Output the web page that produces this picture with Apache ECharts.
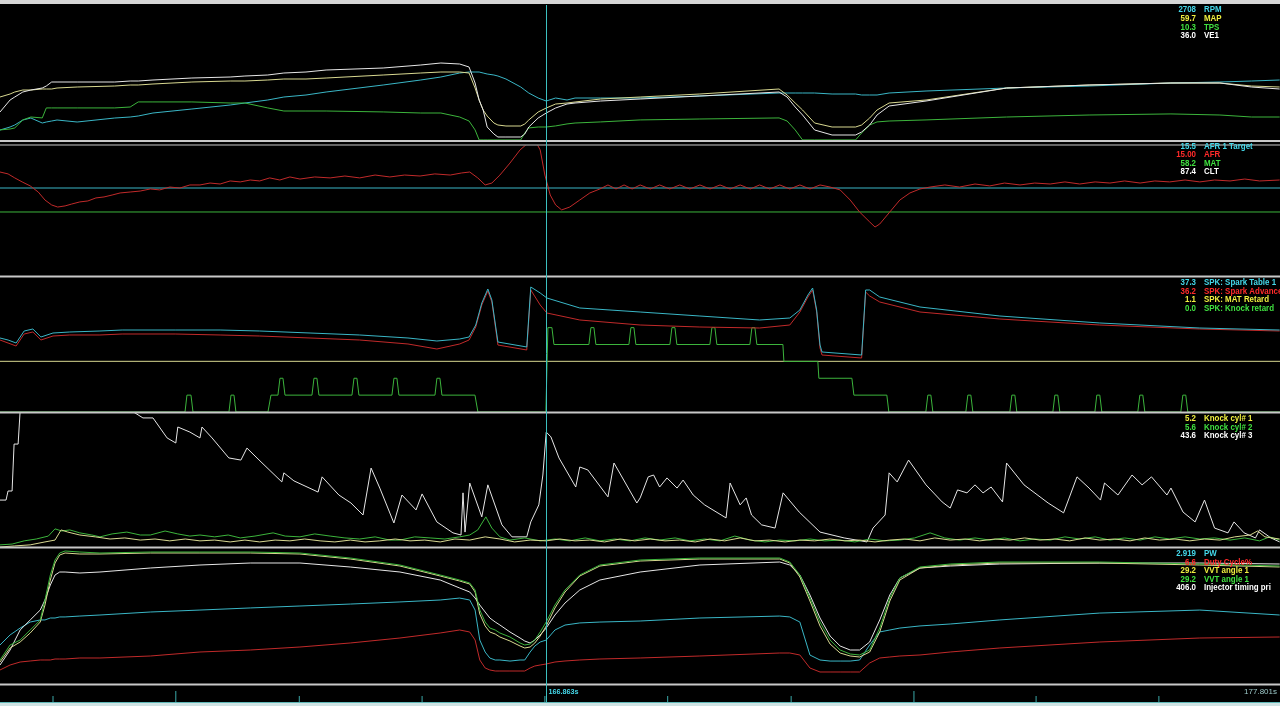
<!DOCTYPE html>
<html><head><meta charset="utf-8">
<script src="https://cdn.jsdelivr.net/npm/echarts/dist/echarts.min.js"></script>
<style>html,body{margin:0;padding:0;background:#000;overflow:hidden}#c{width:1280px;height:706px}</style>
</head><body><div id="c"></div><script>
// ---- time base (seconds) ----
const T0 = 158.726, T_END = 177.801, T_CURSOR = 166.863;

// ---- panel 1 : RPM / MAP / TPS / VE1 (times relative to T0) ----
const p1Time = [0,0.15,0.22,0.34,0.46,0.63,0.69,0.77,0.85,1.15,1.71,1.94,2.06,2.28,2.86,3.43,3.65,3.99,4.23,4.56,4.86,5.71,6.27,6.57,6.85,6.99,7.08,7.14,7.20,7.26,7.36,7.42,7.54,7.76,7.82,7.88,8.02,8.14,8.28,8.45,8.57,8.95,9.54,10.43,11.61,11.73,11.85,11.96,12.14,12.40,12.75,12.84,12.96,13.07,13.25,13.80,15.00,16.23,17.45,18.18,18.65,19.07];
const rpm = [770,980,1120,1470,1610,1260,1330,1400,1470,1330,1610,1680,1750,1960,2240,2520,2660,2870,3080,3220,3430,3920,4270,4480,4760,4830,4830,4830,4760,4690,4620,4550,4340,3780,3570,3360,3010,2800,3010,2870,3010,3010,3010,3150,3360,3360,3360,3360,3360,3290,3290,3220,3220,3220,3360,3500,3710,3850,4060,4130,4200,4270];
const map = [88,94,98,102,102,104,104,104,106,108,110,112,112,114,118,120,120,122,124,124,126,132,136,138,138,136,106,82,62,50,36,32,30,30,34,42,58,66,74,76,78,84,88,94,104,92,76,62,36,28,28,32,46,62,76,82,106,112,116,116,110,108];
const tps = [8.3,9,9.8,15.8,18,17.3,24.8,24.8,24.8,24.8,24.8,25.5,29.3,29.3,29.3,28.5,28.5,24.8,22.5,22.5,22.5,21.8,21,21,18,15,8.3,0.8,0.8,0.8,0.8,0.8,0.8,0.8,6,9.8,10.5,10.5,11.3,12.8,13.5,14.3,15.8,16.5,17.3,15,8.3,0.8,0.8,0.8,0.8,6,12,14.3,15,15.8,18,19.5,20.3,19.5,18,18];
const ve1 = [37.7,53.3,57.2,63.7,66.3,68.9,71.5,76.7,76.7,76.7,76.7,78,78,79.3,81.9,83.2,84.5,85.8,88.4,89.7,92.3,94.9,98.8,101.4,100.1,96.2,75.4,53.3,40.3,18.2,9.1,5.2,5.2,5.2,9.1,18.2,29.9,36.4,42.9,48.1,49.4,52,54.6,58.5,63.7,57.2,44.2,33.8,14.3,7.8,7.8,11.7,20.8,33.8,45.5,52,68.9,72.8,75.4,75.4,70.2,67.6];

// ---- panel 2 : AFR ([time, AFR]) ----
const afr = [[0,16.5],[0.12,16.38],[0.22,16.13],[0.33,15.88],[0.45,15.63],[0.57,15.25],[0.67,14.75],[0.77,14.44],[0.86,14.31],[0.97,14.38],[1.07,14.5],[1.19,14.63],[1.31,14.69],[1.43,14.88],[1.55,14.94],[1.67,15.06],[1.79,15.19],[1.94,15.25],[2.09,15.31],[2.24,15.44],[2.38,15.38],[2.53,15.56],[2.68,15.5],[2.83,15.69],[2.98,15.69],[3.13,15.81],[3.28,15.75],[3.43,15.94],[3.58,15.88],[3.73,16.0],[3.87,15.94],[4.02,16.13],[4.17,16.0],[4.32,16.19],[4.47,16.06],[4.69,16.19],[4.92,16.13],[5.14,16.25],[5.36,16.13],[5.59,16.31],[5.81,16.19],[6.03,16.31],[6.26,16.25],[6.48,16.38],[6.71,16.31],[6.88,16.44],[7.00,16.5],[7.12,16.13],[7.23,15.69],[7.33,15.81],[7.45,16.31],[7.60,17.06],[7.75,17.88],[7.87,18.31],[7.97,18.5],[8.05,17.88],[8.12,16.31],[8.20,15.06],[8.28,14.44],[8.37,14.13],[8.49,14.31],[8.64,14.75],[8.79,15.19],[8.94,15.44],[9.06,15.69],[9.18,15.44],[9.30,15.69],[9.42,15.44],[9.54,15.69],[9.69,15.44],[9.83,15.69],[9.98,15.44],[10.13,15.69],[10.28,15.44],[10.43,15.69],[10.58,15.44],[10.73,15.69],[10.88,15.44],[11.03,15.69],[11.18,15.44],[11.32,15.69],[11.47,15.44],[11.62,15.69],[11.77,15.44],[11.92,15.69],[12.07,15.44],[12.22,15.69],[12.37,15.56],[12.52,15.38],[12.67,14.75],[12.81,14.0],[12.96,13.38],[13.04,13.06],[13.11,13.25],[13.26,14.0],[13.41,14.75],[13.56,15.19],[13.71,15.44],[13.86,15.56],[14.08,15.69],[14.30,15.56],[14.53,15.75],[14.75,15.63],[14.97,15.81],[15.20,15.69],[15.42,15.81],[15.65,15.75],[15.87,15.88],[16.09,15.75],[16.32,15.88],[16.54,15.81],[16.76,15.94],[16.99,15.81],[17.21,15.94],[17.43,15.88],[17.66,16.0],[17.88,15.88],[18.10,16.0],[18.33,15.94],[18.55,16.06],[18.77,15.94],[19.07,16.0]];
const afrTarget = [[0,15.5],[19.075,15.5]];
const mat = [[0,58.2],[19.075,58.2]];

// ---- panel 3 : spark ----
const p3Time = [0,0.12,0.24,0.36,0.49,0.61,0.79,1.04,1.49,1.82,2.61,3.28,3.87,4.62,5.36,6.08,6.51,6.85,6.99,7.09,7.18,7.27,7.33,7.42,7.85,7.91,8.05,8.15,8.64,9.54,10.43,11.32,11.77,11.92,12.04,12.11,12.17,12.22,12.25,12.84,12.90,12.96,13.11,13.71,14.90,16.39,17.88,19.07];
const sparkTable = [24.67,24,23,27,27.67,25,26.33,26.67,27,27.33,27.33,27.33,27,26.33,25.67,24.67,23.67,24.33,25,29,36.33,41,37.33,23.33,21.67,41.67,39.67,38,34.67,33.33,32,30.67,31.33,34,39,41.33,34,22.33,20,19,40.67,40.67,38.33,35,32,29.67,28,27.33];
const sparkAdv = [24,23,22,26,26.67,24,25.33,25.67,25.67,26,26,25.67,25.33,24.67,24,22.67,21,22.67,24,28.33,35.67,40.33,36.67,22.33,20.67,40.67,35.67,33,30.67,29,28.33,28,29,33.33,38.33,40.67,33.33,21.33,19,18,40,38.67,36.67,33.33,31,29,27.67,27];
const matRetard = [[0,1.1],[19.075,1.1]];
const knockRetard = [[0,0],[2.757,0],[2.786,1],[2.846,1],[2.876,0],[3.412,0],[3.442,1],[3.487,1],[3.516,0],[3.993,0],[4.038,1],[4.142,1],[4.172,2],[4.217,2],[4.247,1],[4.649,1],[4.679,2],[4.723,2],[4.753,1],[5.245,1],[5.275,2],[5.319,2],[5.349,1],[5.841,1],[5.871,2],[5.915,2],[5.945,1],[6.482,1],[6.511,2],[6.556,2],[6.586,1],[7.078,1],[7.122,0],[8.135,0],[8.165,5],[8.225,5],[8.255,4],[8.776,4],[8.806,5],[8.851,5],[8.880,4],[9.372,4],[9.402,5],[9.447,5],[9.476,4],[9.983,4],[10.013,5],[10.058,5],[10.087,4],[10.579,4],[10.609,5],[10.654,5],[10.683,4],[11.175,4],[11.205,5],[11.250,5],[11.279,4],[11.667,4],[11.682,3],[12.188,3],[12.203,2],[12.695,2],[12.725,1],[13.216,1],[13.246,0],[13.797,0],[13.827,1],[13.872,1],[13.902,0],[14.393,0],[14.423,1],[14.468,1],[14.498,0],[15.049,0],[15.079,1],[15.124,1],[15.153,0],[15.690,0],[15.720,1],[15.764,1],[15.794,0],[16.316,0],[16.345,1],[16.390,1],[16.420,0],[16.956,0],[16.986,1],[17.031,1],[17.061,0],[17.597,0],[17.627,1],[17.671,1],[17.701,0],[19.075,0]];

// ---- panel 4 : knock ----
const knock3 = [[0,17.6],[0.09,17.6],[0.12,21.0],[0.18,21.0],[0.21,38.6],[0.27,38.6],[0.31,55.1],[0.89,57.0],[1.49,55.9],[2.01,50.3],[2.13,48.4],[2.28,48.4],[2.49,40.9],[2.62,39.0],[2.65,45.0],[2.83,43.1],[2.98,40.9],[3.01,45.0],[3.16,40.9],[3.41,33.4],[3.59,32.6],[3.68,37.1],[3.89,31.9],[4.20,24.4],[4.23,27.8],[4.38,24.8],[4.74,20.6],[4.80,26.3],[5.05,19.5],[5.23,16.5],[5.41,12.0],[5.53,29.6],[5.66,22.1],[5.87,9.0],[5.99,19.5],[6.20,13.9],[6.29,19.9],[6.51,9.4],[6.75,5.3],[6.87,4.5],[6.90,20.3],[6.93,5.6],[7.00,24.0],[7.18,11.3],[7.27,23.3],[7.48,8.3],[7.63,3.8],[7.85,3.8],[7.91,9.4],[8.03,15.8],[8.09,27.0],[8.14,43.1],[8.21,41.3],[8.33,33.4],[8.58,22.5],[8.64,30.0],[8.76,28.9],[9.06,18.8],[9.15,31.5],[9.49,16.5],[9.54,18.4],[9.66,26.3],[9.74,27.0],[9.83,22.5],[9.94,25.9],[10.09,22.1],[10.18,25.1],[10.33,19.5],[10.50,15.8],[10.82,10.9],[10.88,24.0],[11.03,15.8],[11.12,18.4],[11.20,12.0],[11.35,8.3],[11.55,7.1],[11.67,20.3],[11.91,13.1],[12.22,5.6],[12.58,3.4],[12.92,1.9],[13.01,7.1],[13.19,12.0],[13.25,27.8],[13.37,24.4],[13.54,32.6],[13.80,23.3],[14.04,16.9],[14.16,14.6],[14.27,21.4],[14.41,20.3],[14.53,23.3],[14.65,20.3],[14.77,22.5],[14.94,16.9],[15.00,31.5],[15.26,23.3],[15.62,16.5],[15.85,12.8],[16.05,26.3],[16.23,22.1],[16.40,17.6],[16.46,24.0],[16.66,19.5],[16.87,27.0],[17.02,23.3],[17.16,26.3],[17.39,19.5],[17.45,22.1],[17.63,13.1],[17.81,9.4],[17.95,17.6],[18.10,7.1],[18.30,5.3],[18.39,9.4],[18.54,5.3],[18.71,3.4],[18.77,6.4],[18.94,3.4],[19.07,1.9]];
const knock2 = [[0,0.8],[0.18,1.1],[0.36,2.3],[0.54,3.0],[0.72,4.1],[0.82,6.8],[0.92,6.0],[1.04,6.4],[1.19,5.3],[1.37,4.5],[1.49,3.8],[1.67,4.9],[1.89,5.6],[2.09,4.5],[2.24,4.5],[2.46,6.0],[2.65,4.9],[2.83,4.1],[2.98,4.5],[3.20,3.8],[3.40,4.5],[3.58,3.4],[3.80,4.1],[4.07,5.3],[4.25,4.1],[4.47,3.8],[4.69,4.9],[4.92,4.1],[5.14,3.4],[5.36,3.0],[5.59,3.8],[5.81,2.6],[5.96,2.6],[6.18,3.8],[6.41,3.4],[6.63,3.0],[6.85,3.8],[7.00,4.5],[7.12,6.4],[7.24,11.3],[7.33,7.1],[7.45,3.8],[7.60,2.6],[7.82,3.4],[8.05,2.3],[8.27,3.0],[8.49,2.3],[8.72,3.4],[8.94,2.3],[9.16,3.0],[9.39,2.3],[9.61,3.4],[9.83,2.6],[10.06,3.4],[10.28,2.3],[10.50,3.0],[10.73,2.3],[10.95,4.1],[11.18,2.6],[11.40,1.9],[11.62,2.6],[11.85,2.3],[12.07,3.0],[12.29,2.3],[12.52,2.6],[12.74,1.9],[12.96,3.0],[13.19,2.3],[13.41,2.6],[13.63,3.4],[13.86,5.3],[14.08,3.4],[14.30,2.6],[14.53,3.4],[14.75,2.6],[14.97,3.4],[15.20,2.3],[15.42,3.0],[15.65,2.6],[15.87,3.8],[16.09,3.0],[16.32,3.8],[16.54,2.6],[16.76,3.4],[16.99,2.6],[17.21,3.8],[17.43,3.0],[17.66,3.8],[17.88,3.0],[18.10,3.4],[18.33,2.6],[18.55,3.4],[18.77,2.3],[18.92,3.8],[19.07,2.6]];
const knock1 = [[0,0],[0.22,0.4],[0.45,0.8],[0.67,1.9],[0.82,2.6],[0.91,6.4],[1.01,5.6],[1.19,4.5],[1.42,3.8],[1.64,3.0],[1.86,3.4],[2.09,2.6],[2.31,3.0],[2.53,2.3],[2.76,3.0],[2.98,2.3],[3.20,2.6],[3.43,1.9],[3.65,2.6],[3.87,1.9],[4.10,2.6],[4.32,2.3],[4.54,3.0],[4.77,2.3],[4.99,1.9],[5.22,2.6],[5.44,1.9],[5.66,2.3],[5.89,3.0],[6.11,2.3],[6.33,2.6],[6.56,1.9],[6.78,3.0],[7.00,2.6],[7.23,3.8],[7.45,3.0],[7.67,1.9],[7.90,2.6],[8.14,2.3],[8.34,3.0],[8.57,2.3],[8.79,2.6],[9.01,1.9],[9.24,3.0],[9.46,2.3],[9.69,3.0],[9.91,2.3],[10.13,2.6],[10.36,1.9],[10.58,3.0],[10.80,2.3],[11.03,3.4],[11.25,2.3],[11.47,2.6],[11.70,1.9],[11.92,2.6],[12.14,2.3],[12.37,3.0],[12.59,2.3],[12.81,2.6],[13.04,1.9],[13.26,2.6],[13.48,3.0],[13.71,2.3],[13.93,3.4],[14.16,2.6],[14.38,3.0],[14.60,2.3],[14.83,3.0],[15.05,2.6],[15.27,3.4],[15.50,2.6],[15.72,3.0],[15.94,2.3],[16.17,3.4],[16.39,2.6],[16.61,3.0],[16.84,2.3],[17.06,3.4],[17.28,2.6],[17.51,3.0],[17.73,2.3],[17.95,3.0],[18.18,2.6],[18.40,3.8],[18.63,4.5],[18.74,6.0],[18.85,3.8],[19.07,3.0]];

// ---- panel 5 : PW / duty / VVT / injector timing ----
const p5Time = [0,0.15,0.30,0.45,0.60,0.67,0.75,0.82,0.89,0.97,1.19,1.49,2.24,2.98,3.73,4.47,5.22,5.96,6.56,6.85,7.00,7.08,7.15,7.23,7.30,7.38,7.45,7.60,7.75,7.82,7.90,7.97,8.05,8.14,8.27,8.42,8.64,8.94,9.54,10.43,11.62,11.77,11.92,12.07,12.22,12.37,12.52,12.67,12.81,12.96,13.11,13.26,13.41,13.71,14.16,14.90,16.39,17.88,19.07];
const pw = [2.6,3.27,3.73,4.13,4.27,4.27,4.4,4.4,4.47,4.47,4.53,4.6,4.8,4.93,5.07,5.2,5.33,5.47,5.6,5.73,5.6,4.93,2.93,2.13,1.73,1.6,1.6,1.53,1.6,1.6,2.13,2.53,2.8,2.93,3.6,3.93,4.07,4.13,4.2,4.4,4.53,4.47,4.13,1.93,1.6,1.53,1.53,1.53,1.6,2.6,3.47,3.6,3.73,3.87,4.0,4.27,4.73,4.93,4.6];
const duty = [4.67,6.33,7.33,7.67,8,8,8,8.33,8.33,8.33,8.67,8.67,9.33,10.67,11.33,12.33,13.67,15.33,17,18,17.33,14.67,8,5.33,4.67,4.33,4.33,4.33,4.33,4.33,5.33,6,6.33,6.67,7.33,7.67,8,8.33,8.67,9.33,10.33,10.33,9.67,5.33,4,4,4,4,4,7,8.67,9,9.33,9.67,10.67,12,14,15.33,15.67];
const vvtA = [11,18,21,25.5,31,39.5,52,60.5,64.5,65.5,65,65,65.5,65.5,65.5,65,62.5,59,54,51.5,50,46,35,29,26,25,23.5,21.5,19,18,18.5,20.5,24,29,38,46,54,59,61.5,62.5,62.5,60.5,53.5,41.5,29,20,15.5,14,13.5,16,26,41.5,52,58,59.5,60.5,60.5,59.5,58.5];
const vvtB = [12,19.5,22,27,32,42,54.5,62,65.5,66.5,66,65.5,66,66,66,65.5,63,59.5,54.5,52,50.5,47,37,31,28,27,25.5,23.5,20.5,19.5,20,22,26,31,39.5,47,54.5,59.5,62,63,63,61,54.5,43,31,22,17,15,14.5,17,28,43,53,58.5,60,61,61,60,59];
const injTiming = [142.5,255,405,480,555,630,742.5,817.5,840,840,832.5,840,870,892.5,907.5,907.5,877.5,840,780,720,690,645,592.5,540,495,465,442.5,390,345,322.5,307.5,330,367.5,420,517.5,607.5,705,780,840,892.5,915,892.5,817.5,667.5,495,360,285,255,255,315,480,667.5,795,870,885,900,907.5,907.5,900];

// ---- time-axis ticks ----
const tickTimes = [0.79,2.62,4.46,6.29,8.12,9.95,11.79,13.62,15.44,17.27];
const tickMajor = [0,1,0,0,0,0,0,1,0,0];

// ---- legends (value at cursor + channel name) ----
const legendNames = [
  ['RPM','MAP','TPS','VE1'],
  ['AFR 1 Target','AFR','MAT','CLT'],
  ['SPK: Spark Table 1','SPK: Spark Advance','SPK: MAT Retard','SPK: Knock retard'],
  ['Knock cyl# 1','Knock cyl# 2','Knock cyl# 3'],
  ['PW','Duty Cycle%','VVT angle 1','VVT angle 1','Injector timing pri']
];
const legendValues = [
  ['2708','59.7','10.3','36.0'],
  ['15.5','15.00','58.2','87.4'],
  ['37.3','36.2','1.1','0.0'],
  ['5.2','5.6','43.6'],
  ['2.919','6.6','29.2','29.2','406.0']
];

// ---- styling ----
const C = {cyan:'#3ab6c6', yellow:'#d8d890', green:'#3cb43c', white:'#e6e6e6', red:'#c02a2a'};
const TXT = {cyan:'#44d8ea', yellow:'#f0f040', green:'#40e040', white:'#ffffff', red:'#ff2a2a'};
const legendColors = [
  ['cyan','yellow','green','white'],
  ['cyan','red','green','white'],
  ['cyan','red','yellow','green'],
  ['yellow','green','white'],
  ['cyan','red','yellow','green','white']
];
const legendRowY = [[10,18.7,27.4,36],[146.5,155,163.5,172],[283,291.5,300,308.5],[419,427.5,436],[554,562.5,571,579.5,588]];

const zip = (t, v) => t.map((x, i) => [T0 + x, v[i]]);
const abs = p => p.map(([t, v]) => [T0 + t, v]);

const grids = [
  {left:0,right:0,top:6,height:135},
  {left:0,right:0,top:146,height:130},
  {left:0,right:0,top:277,height:135},
  {left:0,right:0,top:413,height:134},
  {left:0,right:0,top:548,height:136},
  {left:0,right:0,top:685,height:17}
];
const xAxis = grids.map((g, i) => ({type:'value', gridIndex:i, min:T0, max:T_END, show:false}));
const yDefs = [
  [0,0,9450],[0,0,270],[0,0,101.25],[0,0,175.5],
  [1,10,18.125],[1,0,118.2],
  [2,0,45],[2,0,2.93],[2,0,8],
  [3,0,50.25],
  [4,0,9.067],[4,0,45.33],[4,0,68],[4,0,1020],
  [5,0,1]
];
const yAxis = yDefs.map(([g, mn, mx]) => ({type:'value', gridIndex:g, min:mn, max:mx, show:false}));

function line(name, g, y, data, color, z) {
  return {name, type:'line', xAxisIndex:g, yAxisIndex:y, data, symbol:'none', silent:true,
    lineStyle:{color, width:1}, z: z || 2, animation:false, clip:true};
}

const series = [
  line('RPM',0,0,zip(p1Time,rpm),C.cyan,2),
  line('TPS',0,2,zip(p1Time,tps),C.green,2),
  line('MAP',0,1,zip(p1Time,map),C.yellow,3),
  line('VE1',0,3,zip(p1Time,ve1),C.white,4),
  line('MAT',1,5,abs(mat),C.green,2),
  line('AFR 1 Target',1,4,abs(afrTarget),C.cyan,2),
  line('AFR',1,4,abs(afr),C.red,3),
  line('SPK: MAT Retard',2,7,abs(matRetard),C.yellow,2),
  line('SPK: Knock retard',2,8,abs(knockRetard),C.green,3),
  line('SPK: Spark Advance',2,6,zip(p3Time,sparkAdv),C.red,3),
  line('SPK: Spark Table 1',2,6,zip(p3Time,sparkTable),C.cyan,4),
  line('Knock cyl# 3',3,9,abs(knock3),C.white,2),
  line('Knock cyl# 2',3,9,abs(knock2),C.green,3),
  line('Knock cyl# 1',3,9,abs(knock1),C.yellow,4),
  line('Duty Cycle%',4,11,zip(p5Time,duty),C.red,2),
  line('PW',4,10,zip(p5Time,pw),C.cyan,2),
  line('Injector timing pri',4,13,zip(p5Time,injTiming),C.white,3),
  line('VVT angle 1 (y)',4,12,zip(p5Time,vvtA),C.yellow,3),
  line('VVT angle 1 (g)',4,12,zip(p5Time,vvtB),C.green,4),
  {type:'custom', xAxisIndex:5, yAxisIndex:14, silent:true, animation:false,
    data: tickTimes.map((t, i) => [T0 + t, tickMajor[i]]),
    renderItem: (params, api) => {
      const p = api.coord([api.value(0), 0]);
      const h = api.value(1) ? 11 : 6;
      return {type:'line', shape:{x1:p[0], y1:p[1], x2:p[0], y2:p[1] - h}, style:{stroke:'#3aa8a8', lineWidth:1}};
    }}
];

const chart = echarts.init(document.getElementById('c'), null, {renderer:'canvas'});
chart.setOption({backgroundColor:'#000', animation:false, grid:grids, xAxis, yAxis, series});

const FONT = 'bold 9px "Liberation Sans", Arial, sans-serif';
const SX = 0.88;
const gfx = [];
gfx.push({type:'rect', shape:{x:0,y:0,width:1280,height:4}, style:{fill:'#d6d6d6'}, z:10});
[141, 145, 276.5, 412.5, 547.5, 684.5].forEach((y, i) => {
  gfx.push({type:'line', shape:{x1:0,y1:y,x2:1280,y2:y}, style:{stroke:'#c8c8c8', lineWidth: (i===1 ? 1 : 2)}, z:10});
});
gfx.push({type:'line', shape:{x1:0,y1:702.5,x2:1280,y2:702.5}, style:{stroke:'#5fb8b8', lineWidth:1}, z:10});
gfx.push({type:'rect', shape:{x:0,y:703,width:1280,height:3}, style:{fill:'#cfe3e3'}, z:10});

legendNames.forEach((names, p) => {
  names.forEach((nm, r) => {
    const col = TXT[legendColors[p][r]];
    const y = legendRowY[p][r];
    gfx.push({type:'text', x:1196, y, scaleX:SX, z:20, style:{text:legendValues[p][r], x:0, y:0, fill:col, font:FONT, textAlign:'right', align:'right', textVerticalAlign:'middle', verticalAlign:'middle'}});
    gfx.push({type:'text', x:1204, y, scaleX:SX, z:20, style:{text:nm, x:0, y:0, fill:col, font:FONT, textAlign:'left', align:'left', textVerticalAlign:'middle', verticalAlign:'middle'}});
  });
});

const cx = Math.round(chart.convertToPixel({xAxisIndex:0}, T_CURSOR)) + 0.5;
gfx.push({type:'line', shape:{x1:cx,y1:5,x2:cx,y2:702}, style:{stroke:'#3cc0c0', lineWidth:1}, z:15});
gfx.push({type:'text', x:cx + 2, y:692, scaleX:0.9, z:20, style:{text:T_CURSOR.toFixed(3) + 's', x:0, y:0, fill:'#44d8ea', font:'bold 8px "Liberation Sans", Arial, sans-serif', textVerticalAlign:'middle', verticalAlign:'middle'}});
gfx.push({type:'text', x:1277, y:692, z:20, style:{text:T_END.toFixed(3) + 's', x:0, y:0, fill:'#9cc8c8', font:'8px "Liberation Sans", Arial, sans-serif', textAlign:'right', align:'right', textVerticalAlign:'middle', verticalAlign:'middle'}});
chart.setOption({graphic:{elements:gfx}});
</script></body></html>
